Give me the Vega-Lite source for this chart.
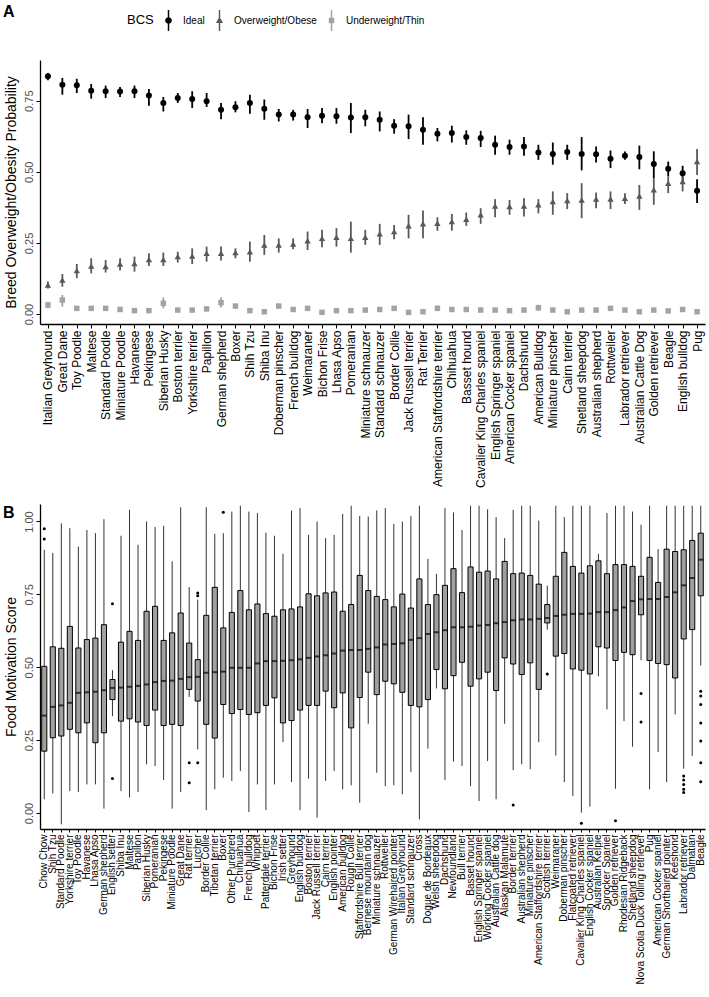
{
  "$schema": "https://vega.github.io/schema/vega-lite/v6.json",
  "padding": {"left": 3, "top": 4, "right": 5, "bottom": 0},
  "config": {
    "font": "Liberation Sans",
    "view": {"stroke": null},
    "axis": {"grid": false, "domainColor": "#000000", "domainWidth": 1.3, "tickColor": "#000000", "tickWidth": 1, "tickSize": 4, "labelPadding": 2, "labelFont": "Liberation Sans", "titleFont": "Liberation Sans", "titleFontWeight": "normal", "titleColor": "#000000"}
  },
  "datasets": {
    "a": [
      {"b":"Italian Greyhound","s":"Ideal","p":0.836,"lo":0.822,"hi":0.847},
      {"b":"Great Dane","s":"Ideal","p":0.806,"lo":0.771,"hi":0.830},
      {"b":"Toy Poodle","s":"Ideal","p":0.804,"lo":0.777,"hi":0.827},
      {"b":"Maltese","s":"Ideal","p":0.785,"lo":0.757,"hi":0.809},
      {"b":"Standard Poodle","s":"Ideal","p":0.783,"lo":0.759,"hi":0.803},
      {"b":"Miniature Poodle","s":"Ideal","p":0.782,"lo":0.763,"hi":0.798},
      {"b":"Havanese","s":"Ideal","p":0.783,"lo":0.759,"hi":0.803},
      {"b":"Pekingese","s":"Ideal","p":0.768,"lo":0.732,"hi":0.791},
      {"b":"Siberian Husky","s":"Ideal","p":0.742,"lo":0.712,"hi":0.763},
      {"b":"Boston terrier","s":"Ideal","p":0.759,"lo":0.742,"hi":0.777},
      {"b":"Yorkshire terrier","s":"Ideal","p":0.756,"lo":0.724,"hi":0.783},
      {"b":"Papillon","s":"Ideal","p":0.748,"lo":0.728,"hi":0.777},
      {"b":"German shepherd","s":"Ideal","p":0.718,"lo":0.685,"hi":0.742},
      {"b":"Boxer","s":"Ideal","p":0.727,"lo":0.709,"hi":0.748},
      {"b":"Shih Tzu","s":"Ideal","p":0.742,"lo":0.704,"hi":0.771},
      {"b":"Shiba Inu","s":"Ideal","p":0.722,"lo":0.683,"hi":0.754},
      {"b":"Doberman pinscher","s":"Ideal","p":0.701,"lo":0.677,"hi":0.721},
      {"b":"French bulldog","s":"Ideal","p":0.701,"lo":0.680,"hi":0.718},
      {"b":"Weimaraner","s":"Ideal","p":0.692,"lo":0.654,"hi":0.721},
      {"b":"Bichon Frise","s":"Ideal","p":0.697,"lo":0.671,"hi":0.724},
      {"b":"Lhasa Apso","s":"Ideal","p":0.695,"lo":0.669,"hi":0.724},
      {"b":"Pomeranian","s":"Ideal","p":0.691,"lo":0.636,"hi":0.742},
      {"b":"Miniature schnauzer","s":"Ideal","p":0.692,"lo":0.660,"hi":0.718},
      {"b":"Standard schnauzer","s":"Ideal","p":0.683,"lo":0.642,"hi":0.712},
      {"b":"Border Collie","s":"Ideal","p":0.662,"lo":0.634,"hi":0.685},
      {"b":"Jack Russell terrier","s":"Ideal","p":0.660,"lo":0.615,"hi":0.701},
      {"b":"Rat Terrier","s":"Ideal","p":0.648,"lo":0.595,"hi":0.692},
      {"b":"American Staffordshire terrier","s":"Ideal","p":0.634,"lo":0.607,"hi":0.654},
      {"b":"Chihuahua","s":"Ideal","p":0.636,"lo":0.603,"hi":0.662},
      {"b":"Basset hound","s":"Ideal","p":0.622,"lo":0.595,"hi":0.646},
      {"b":"Cavalier King Charles spaniel","s":"Ideal","p":0.619,"lo":0.587,"hi":0.644},
      {"b":"English Springer spaniel","s":"Ideal","p":0.595,"lo":0.560,"hi":0.627},
      {"b":"American Cocker spaniel","s":"Ideal","p":0.587,"lo":0.560,"hi":0.613},
      {"b":"Dachshund","s":"Ideal","p":0.589,"lo":0.556,"hi":0.622},
      {"b":"American Bulldog","s":"Ideal","p":0.568,"lo":0.542,"hi":0.595},
      {"b":"Miniature pinscher","s":"Ideal","p":0.563,"lo":0.525,"hi":0.603},
      {"b":"Cairn terrier","s":"Ideal","p":0.570,"lo":0.542,"hi":0.595},
      {"b":"Shetland sheepdog","s":"Ideal","p":0.563,"lo":0.505,"hi":0.622},
      {"b":"Australian shepherd","s":"Ideal","p":0.562,"lo":0.533,"hi":0.589},
      {"b":"Rottweiler","s":"Ideal","p":0.546,"lo":0.513,"hi":0.575},
      {"b":"Labrador retriever","s":"Ideal","p":0.556,"lo":0.542,"hi":0.571},
      {"b":"Australian Cattle Dog","s":"Ideal","p":0.552,"lo":0.509,"hi":0.592},
      {"b":"Golden retriever","s":"Ideal","p":0.527,"lo":0.478,"hi":0.572},
      {"b":"Beagle","s":"Ideal","p":0.511,"lo":0.484,"hi":0.536},
      {"b":"English bulldog","s":"Ideal","p":0.495,"lo":0.469,"hi":0.521},
      {"b":"Pug","s":"Ideal","p":0.433,"lo":0.390,"hi":0.474},
      {"b":"Italian Greyhound","s":"Overweight/Obese","p":0.102,"lo":0.090,"hi":0.114},
      {"b":"Great Dane","s":"Overweight/Obese","p":0.120,"lo":0.096,"hi":0.141},
      {"b":"Toy Poodle","s":"Overweight/Obese","p":0.153,"lo":0.126,"hi":0.176},
      {"b":"Maltese","s":"Overweight/Obese","p":0.169,"lo":0.143,"hi":0.196},
      {"b":"Standard Poodle","s":"Overweight/Obese","p":0.167,"lo":0.146,"hi":0.190},
      {"b":"Miniature Poodle","s":"Overweight/Obese","p":0.176,"lo":0.153,"hi":0.196},
      {"b":"Havanese","s":"Overweight/Obese","p":0.178,"lo":0.149,"hi":0.202},
      {"b":"Pekingese","s":"Overweight/Obese","p":0.192,"lo":0.169,"hi":0.214},
      {"b":"Siberian Husky","s":"Overweight/Obese","p":0.192,"lo":0.169,"hi":0.216},
      {"b":"Boston terrier","s":"Overweight/Obese","p":0.202,"lo":0.181,"hi":0.219},
      {"b":"Yorkshire terrier","s":"Overweight/Obese","p":0.204,"lo":0.176,"hi":0.231},
      {"b":"Papillon","s":"Overweight/Obese","p":0.214,"lo":0.184,"hi":0.237},
      {"b":"German shepherd","s":"Overweight/Obese","p":0.214,"lo":0.188,"hi":0.237},
      {"b":"Boxer","s":"Overweight/Obese","p":0.216,"lo":0.196,"hi":0.231},
      {"b":"Shih Tzu","s":"Overweight/Obese","p":0.219,"lo":0.184,"hi":0.255},
      {"b":"Shiba Inu","s":"Overweight/Obese","p":0.243,"lo":0.208,"hi":0.278},
      {"b":"Doberman pinscher","s":"Overweight/Obese","p":0.243,"lo":0.216,"hi":0.266},
      {"b":"French bulldog","s":"Overweight/Obese","p":0.246,"lo":0.228,"hi":0.266},
      {"b":"Weimaraner","s":"Overweight/Obese","p":0.258,"lo":0.225,"hi":0.290},
      {"b":"Bichon Frise","s":"Overweight/Obese","p":0.266,"lo":0.235,"hi":0.296},
      {"b":"Lhasa Apso","s":"Overweight/Obese","p":0.270,"lo":0.237,"hi":0.302},
      {"b":"Pomeranian","s":"Overweight/Obese","p":0.266,"lo":0.216,"hi":0.325},
      {"b":"Miniature schnauzer","s":"Overweight/Obese","p":0.270,"lo":0.243,"hi":0.296},
      {"b":"Standard schnauzer","s":"Overweight/Obese","p":0.282,"lo":0.243,"hi":0.317},
      {"b":"Border Collie","s":"Overweight/Obese","p":0.290,"lo":0.263,"hi":0.313},
      {"b":"Jack Russell terrier","s":"Overweight/Obese","p":0.310,"lo":0.266,"hi":0.349},
      {"b":"Rat Terrier","s":"Overweight/Obese","p":0.317,"lo":0.266,"hi":0.364},
      {"b":"American Staffordshire terrier","s":"Overweight/Obese","p":0.319,"lo":0.293,"hi":0.340},
      {"b":"Chihuahua","s":"Overweight/Obese","p":0.325,"lo":0.293,"hi":0.352},
      {"b":"Basset hound","s":"Overweight/Obese","p":0.333,"lo":0.310,"hi":0.357},
      {"b":"Cavalier King Charles spaniel","s":"Overweight/Obese","p":0.349,"lo":0.317,"hi":0.372},
      {"b":"English Springer spaniel","s":"Overweight/Obese","p":0.380,"lo":0.340,"hi":0.404},
      {"b":"American Cocker spaniel","s":"Overweight/Obese","p":0.378,"lo":0.349,"hi":0.401},
      {"b":"Dachshund","s":"Overweight/Obese","p":0.380,"lo":0.343,"hi":0.407},
      {"b":"American Bulldog","s":"Overweight/Obese","p":0.384,"lo":0.354,"hi":0.404},
      {"b":"Miniature pinscher","s":"Overweight/Obese","p":0.396,"lo":0.349,"hi":0.431},
      {"b":"Cairn terrier","s":"Overweight/Obese","p":0.399,"lo":0.369,"hi":0.425},
      {"b":"Shetland sheepdog","s":"Overweight/Obese","p":0.401,"lo":0.337,"hi":0.460},
      {"b":"Australian shepherd","s":"Overweight/Obese","p":0.404,"lo":0.372,"hi":0.427},
      {"b":"Rottweiler","s":"Overweight/Obese","p":0.404,"lo":0.369,"hi":0.431},
      {"b":"Labrador retriever","s":"Overweight/Obese","p":0.407,"lo":0.387,"hi":0.425},
      {"b":"Australian Cattle Dog","s":"Overweight/Obese","p":0.415,"lo":0.366,"hi":0.454},
      {"b":"Golden retriever","s":"Overweight/Obese","p":0.437,"lo":0.384,"hi":0.478},
      {"b":"Beagle","s":"Overweight/Obese","p":0.460,"lo":0.425,"hi":0.484},
      {"b":"English bulldog","s":"Overweight/Obese","p":0.466,"lo":0.431,"hi":0.489},
      {"b":"Pug","s":"Overweight/Obese","p":0.536,"lo":0.489,"hi":0.580},
      {"b":"Italian Greyhound","s":"Underweight/Thin","p":0.032,"lo":0.020,"hi":0.043},
      {"b":"Great Dane","s":"Underweight/Thin","p":0.049,"lo":0.026,"hi":0.067},
      {"b":"Toy Poodle","s":"Underweight/Thin","p":0.020,"lo":0.013,"hi":0.027},
      {"b":"Maltese","s":"Underweight/Thin","p":0.020,"lo":0.013,"hi":0.027},
      {"b":"Standard Poodle","s":"Underweight/Thin","p":0.020,"lo":0.012,"hi":0.028},
      {"b":"Miniature Poodle","s":"Underweight/Thin","p":0.016,"lo":0.010,"hi":0.022},
      {"b":"Havanese","s":"Underweight/Thin","p":0.012,"lo":0.007,"hi":0.017},
      {"b":"Pekingese","s":"Underweight/Thin","p":0.012,"lo":0.007,"hi":0.017},
      {"b":"Siberian Husky","s":"Underweight/Thin","p":0.038,"lo":0.020,"hi":0.058},
      {"b":"Boston terrier","s":"Underweight/Thin","p":0.014,"lo":0.008,"hi":0.020},
      {"b":"Yorkshire terrier","s":"Underweight/Thin","p":0.014,"lo":0.008,"hi":0.020},
      {"b":"Papillon","s":"Underweight/Thin","p":0.018,"lo":0.011,"hi":0.025},
      {"b":"German shepherd","s":"Underweight/Thin","p":0.040,"lo":0.023,"hi":0.059},
      {"b":"Boxer","s":"Underweight/Thin","p":0.028,"lo":0.020,"hi":0.036},
      {"b":"Shih Tzu","s":"Underweight/Thin","p":0.012,"lo":0.007,"hi":0.017},
      {"b":"Shiba Inu","s":"Underweight/Thin","p":0.008,"lo":0.004,"hi":0.012},
      {"b":"Doberman pinscher","s":"Underweight/Thin","p":0.028,"lo":0.019,"hi":0.037},
      {"b":"French bulldog","s":"Underweight/Thin","p":0.016,"lo":0.010,"hi":0.022},
      {"b":"Weimaraner","s":"Underweight/Thin","p":0.020,"lo":0.012,"hi":0.028},
      {"b":"Bichon Frise","s":"Underweight/Thin","p":0.006,"lo":0.003,"hi":0.010},
      {"b":"Lhasa Apso","s":"Underweight/Thin","p":0.012,"lo":0.007,"hi":0.017},
      {"b":"Pomeranian","s":"Underweight/Thin","p":0.012,"lo":0.007,"hi":0.017},
      {"b":"Miniature schnauzer","s":"Underweight/Thin","p":0.014,"lo":0.008,"hi":0.020},
      {"b":"Standard schnauzer","s":"Underweight/Thin","p":0.016,"lo":0.010,"hi":0.022},
      {"b":"Border Collie","s":"Underweight/Thin","p":0.020,"lo":0.013,"hi":0.027},
      {"b":"Jack Russell terrier","s":"Underweight/Thin","p":0.006,"lo":0.003,"hi":0.010},
      {"b":"Rat Terrier","s":"Underweight/Thin","p":0.008,"lo":0.004,"hi":0.012},
      {"b":"American Staffordshire terrier","s":"Underweight/Thin","p":0.020,"lo":0.012,"hi":0.030},
      {"b":"Chihuahua","s":"Underweight/Thin","p":0.016,"lo":0.010,"hi":0.022},
      {"b":"Basset hound","s":"Underweight/Thin","p":0.016,"lo":0.010,"hi":0.022},
      {"b":"Cavalier King Charles spaniel","s":"Underweight/Thin","p":0.014,"lo":0.008,"hi":0.020},
      {"b":"English Springer spaniel","s":"Underweight/Thin","p":0.014,"lo":0.008,"hi":0.020},
      {"b":"American Cocker spaniel","s":"Underweight/Thin","p":0.012,"lo":0.007,"hi":0.017},
      {"b":"Dachshund","s":"Underweight/Thin","p":0.014,"lo":0.008,"hi":0.020},
      {"b":"American Bulldog","s":"Underweight/Thin","p":0.022,"lo":0.012,"hi":0.033},
      {"b":"Miniature pinscher","s":"Underweight/Thin","p":0.014,"lo":0.008,"hi":0.020},
      {"b":"Cairn terrier","s":"Underweight/Thin","p":0.008,"lo":0.004,"hi":0.012},
      {"b":"Shetland sheepdog","s":"Underweight/Thin","p":0.014,"lo":0.008,"hi":0.020},
      {"b":"Australian shepherd","s":"Underweight/Thin","p":0.014,"lo":0.008,"hi":0.020},
      {"b":"Rottweiler","s":"Underweight/Thin","p":0.020,"lo":0.012,"hi":0.028},
      {"b":"Labrador retriever","s":"Underweight/Thin","p":0.014,"lo":0.008,"hi":0.020},
      {"b":"Australian Cattle Dog","s":"Underweight/Thin","p":0.008,"lo":0.004,"hi":0.012},
      {"b":"Golden retriever","s":"Underweight/Thin","p":0.014,"lo":0.008,"hi":0.020},
      {"b":"Beagle","s":"Underweight/Thin","p":0.011,"lo":0.006,"hi":0.016},
      {"b":"English bulldog","s":"Underweight/Thin","p":0.016,"lo":0.010,"hi":0.022},
      {"b":"Pug","s":"Underweight/Thin","p":0.008,"lo":0.004,"hi":0.012}
    ],
    "bx": [
      {"b":"Chow Chow","lo":0.047,"q1":0.212,"md":0.334,"q3":0.503,"hi":0.903},
      {"b":"Shih Tzu","lo":0.067,"q1":0.258,"md":0.364,"q3":0.570,"hi":0.892},
      {"b":"Standard Poodle","lo":-0.039,"q1":0.264,"md":0.369,"q3":0.565,"hi":0.994},
      {"b":"Yorkshire terrier","lo":0.075,"q1":0.287,"md":0.378,"q3":0.640,"hi":0.977},
      {"b":"Toy Poodle","lo":0.072,"q1":0.275,"md":0.412,"q3":0.566,"hi":0.914},
      {"b":"Havanese","lo":0.098,"q1":0.309,"md":0.414,"q3":0.595,"hi":0.971},
      {"b":"Lhasa Apso","lo":0.098,"q1":0.241,"md":0.416,"q3":0.600,"hi":0.960},
      {"b":"German shepherd","lo":0.015,"q1":0.275,"md":0.421,"q3":0.646,"hi":1.008},
      {"b":"English setter","lo":0.332,"q1":0.389,"md":0.429,"q3":0.458,"hi":0.490},
      {"b":"Shiba Inu","lo":0.075,"q1":0.315,"md":0.430,"q3":0.586,"hi":0.951},
      {"b":"Maltese","lo":0.053,"q1":0.323,"md":0.433,"q3":0.623,"hi":1.040},
      {"b":"Papillon","lo":0.072,"q1":0.312,"md":0.436,"q3":0.592,"hi":0.920},
      {"b":"Siberian Husky","lo":0.167,"q1":0.300,"md":0.441,"q3":0.692,"hi":1.000},
      {"b":"Pomeranian","lo":0.161,"q1":0.353,"md":0.449,"q3":0.709,"hi":0.981},
      {"b":"Pekingese","lo":0.113,"q1":0.300,"md":0.453,"q3":0.592,"hi":0.985},
      {"b":"Miniature Poodle","lo":0.015,"q1":0.304,"md":0.454,"q3":0.618,"hi":0.863},
      {"b":"Great Dane","lo":0.072,"q1":0.300,"md":0.460,"q3":0.686,"hi":1.049},
      {"b":"Rat terrier","lo":0.398,"q1":0.424,"md":0.466,"q3":0.583,"hi":0.775},
      {"b":"Lurcher","lo":0.218,"q1":0.384,"md":0.467,"q3":0.526,"hi":0.732},
      {"b":"Border Collie","lo":0.010,"q1":0.304,"md":0.481,"q3":0.678,"hi":1.049},
      {"b":"Tibetan terrier","lo":0.081,"q1":0.257,"md":0.483,"q3":0.774,"hi":0.958},
      {"b":"Boxer","lo":0.121,"q1":0.372,"md":0.485,"q3":0.635,"hi":0.960},
      {"b":"Other Purebred","lo":0.110,"q1":0.341,"md":0.498,"q3":0.688,"hi":1.034},
      {"b":"Chihuahua","lo":0.144,"q1":0.355,"md":0.498,"q3":0.763,"hi":1.054},
      {"b":"French bulldog","lo":0.003,"q1":0.338,"md":0.498,"q3":0.697,"hi":1.034},
      {"b":"Whippet","lo":0.098,"q1":0.344,"md":0.513,"q3":0.717,"hi":1.029},
      {"b":"Patterdale terrier","lo":0.010,"q1":0.369,"md":0.521,"q3":0.684,"hi":0.962},
      {"b":"Bichon Frise","lo":0.098,"q1":0.395,"md":0.521,"q3":0.675,"hi":0.951},
      {"b":"Irish setter","lo":0.243,"q1":0.309,"md":0.522,"q3":0.697,"hi":0.889},
      {"b":"Greyhound","lo":0.106,"q1":0.317,"md":0.524,"q3":0.700,"hi":1.038},
      {"b":"English bulldog","lo":0.010,"q1":0.353,"md":0.527,"q3":0.707,"hi":1.046},
      {"b":"Boston terrier","lo":0.118,"q1":0.369,"md":0.532,"q3":0.752,"hi":0.954},
      {"b":"Jack Russell terrier","lo":-0.016,"q1":0.369,"md":0.537,"q3":0.745,"hi":1.000},
      {"b":"Cairn terrier","lo":0.110,"q1":0.418,"md":0.541,"q3":0.755,"hi":0.943},
      {"b":"English pointer","lo":0.144,"q1":0.361,"md":0.547,"q3":0.758,"hi":0.954},
      {"b":"American bulldog","lo":0.081,"q1":0.412,"md":0.557,"q3":0.692,"hi":1.026},
      {"b":"Rough Collie","lo":0.095,"q1":0.292,"md":0.559,"q3":0.715,"hi":1.054},
      {"b":"Staffordshire Bull terrier","lo":0.035,"q1":0.396,"md":0.559,"q3":0.815,"hi":1.019},
      {"b":"Bernese mountain dog","lo":0.306,"q1":0.483,"md":0.563,"q3":0.763,"hi":1.017},
      {"b":"Miniature schnauzer","lo":0.138,"q1":0.406,"md":0.568,"q3":0.743,"hi":1.038},
      {"b":"Rottweiler","lo":0.092,"q1":0.452,"md":0.578,"q3":0.732,"hi":1.046},
      {"b":"German Wirehaired pointer","lo":0.095,"q1":0.443,"md":0.580,"q3":0.707,"hi":0.992},
      {"b":"Italian Greyhound","lo":0.064,"q1":0.414,"md":0.582,"q3":0.751,"hi":1.000},
      {"b":"Standard schnauzer","lo":0.140,"q1":0.369,"md":0.594,"q3":0.703,"hi":1.019},
      {"b":"Cross","lo":-0.022,"q1":0.364,"md":0.600,"q3":0.803,"hi":1.054},
      {"b":"Dogue de Bordeaux","lo":0.221,"q1":0.389,"md":0.614,"q3":0.715,"hi":0.872},
      {"b":"Welsh sheepdog","lo":0.427,"q1":0.492,"md":0.620,"q3":0.749,"hi":0.820},
      {"b":"Dachshund","lo":0.113,"q1":0.426,"md":0.627,"q3":0.781,"hi":1.046},
      {"b":"Newfoundland","lo":0.176,"q1":0.471,"md":0.637,"q3":0.838,"hi":1.031},
      {"b":"Bull terrier","lo":0.161,"q1":0.517,"md":0.637,"q3":0.756,"hi":0.971},
      {"b":"Basset hound","lo":0.092,"q1":0.435,"md":0.639,"q3":0.844,"hi":1.054},
      {"b":"English Springer spaniel","lo":0.041,"q1":0.460,"md":0.643,"q3":0.826,"hi":1.054},
      {"b":"Working Cocker spaniel","lo":0.178,"q1":0.483,"md":0.645,"q3":0.830,"hi":1.042},
      {"b":"Australian Cattle dog","lo":0.047,"q1":0.420,"md":0.651,"q3":0.803,"hi":1.015},
      {"b":"Alaskan Malamute","lo":0.306,"q1":0.532,"md":0.655,"q3":0.863,"hi":0.943},
      {"b":"Border terrier","lo":0.147,"q1":0.511,"md":0.661,"q3":0.821,"hi":1.040},
      {"b":"Australian shepherd","lo":0.167,"q1":0.475,"md":0.664,"q3":0.823,"hi":1.054},
      {"b":"Miniature pinscher","lo":0.150,"q1":0.515,"md":0.664,"q3":0.815,"hi":1.054},
      {"b":"American Staffordshire terrier","lo":0.243,"q1":0.424,"md":0.666,"q3":0.785,"hi":1.003},
      {"b":"Scottish terrier","lo":0.629,"q1":0.652,"md":0.669,"q3":0.715,"hi":0.780},
      {"b":"Weimaraner","lo":0.197,"q1":0.538,"md":0.676,"q3":0.812,"hi":1.054},
      {"b":"Doberman pinscher","lo":0.106,"q1":0.547,"md":0.680,"q3":0.894,"hi":1.015},
      {"b":"Flatcoated retriever","lo":0.058,"q1":0.494,"md":0.683,"q3":0.846,"hi":1.054},
      {"b":"Cavalier King Charles spaniel","lo":0.001,"q1":0.490,"md":0.683,"q3":0.823,"hi":1.054},
      {"b":"English Cocker spaniel","lo":0.022,"q1":0.477,"md":0.684,"q3":0.848,"hi":1.054},
      {"b":"Australian Kelpie","lo":0.469,"q1":0.570,"md":0.689,"q3":0.865,"hi":0.889},
      {"b":"Sprocker Spaniel","lo":0.355,"q1":0.566,"md":0.689,"q3":0.821,"hi":1.029},
      {"b":"Golden retriever","lo":0.083,"q1":0.523,"md":0.696,"q3":0.852,"hi":1.054},
      {"b":"Rhodesian Ridgeback","lo":0.315,"q1":0.551,"md":0.705,"q3":0.852,"hi":1.054},
      {"b":"Shetland sheepdog","lo":0.227,"q1":0.543,"md":0.727,"q3":0.846,"hi":1.034},
      {"b":"Nova Scotia Duck Tolling retriever","lo":0.524,"q1":0.680,"md":0.733,"q3":0.812,"hi":0.989},
      {"b":"Pug","lo":0.081,"q1":0.523,"md":0.734,"q3":0.877,"hi":1.054},
      {"b":"American Cocker spaniel","lo":0.209,"q1":0.513,"md":0.734,"q3":0.791,"hi":0.905},
      {"b":"German Shorthaired pointer","lo":0.106,"q1":0.509,"md":0.741,"q3":0.905,"hi":1.054},
      {"b":"Keeshond","lo":0.338,"q1":0.463,"md":0.757,"q3":0.897,"hi":1.054},
      {"b":"Labrador retriever","lo":0.152,"q1":0.597,"md":0.781,"q3":0.903,"hi":1.054},
      {"b":"Dalmatian","lo":0.195,"q1":0.629,"md":0.806,"q3":0.935,"hi":1.054},
      {"b":"Beagle","lo":0.506,"q1":0.745,"md":0.869,"q3":0.960,"hi":1.054}
    ],
    "o": [
      {"b":"Chow Chow","v":0.975},{"b":"Chow Chow","v":0.940},
      {"b":"English setter","v":0.718},{"b":"English setter","v":0.118},
      {"b":"Rat terrier","v":0.172},{"b":"Rat terrier","v":0.104},
      {"b":"Lurcher","v":0.755},{"b":"Lurcher","v":0.745},{"b":"Lurcher","v":0.172},
      {"b":"Boxer","v":1.032},
      {"b":"Border terrier","v":0.027},
      {"b":"Scottish terrier","v":0.477},
      {"b":"Cavalier King Charles spaniel","v":-0.035},
      {"b":"Golden retriever","v":-0.027},
      {"b":"Nova Scotia Duck Tolling retriever","v":0.410},{"b":"Nova Scotia Duck Tolling retriever","v":0.312},
      {"b":"Labrador retriever","v":0.127},{"b":"Labrador retriever","v":0.113},{"b":"Labrador retriever","v":0.098},{"b":"Labrador retriever","v":0.081},{"b":"Labrador retriever","v":0.070},
      {"b":"Beagle","v":0.418},{"b":"Beagle","v":0.401},{"b":"Beagle","v":0.372},{"b":"Beagle","v":0.309},{"b":"Beagle","v":0.247},{"b":"Beagle","v":0.172},{"b":"Beagle","v":0.107}
    ]
  },
  "vconcat": [
    {
      "width": 665,
      "height": 264,
      "title": {"text": "A", "anchor": "start", "frame": "group", "fontSize": 16, "fontWeight": "bold", "dx": -37, "offset": 40, "color": "#000000"},
      "data": {"name": "a"},
      "encoding": {
        "x": {"field": "b", "type": "nominal", "sort": null,
              "scale": {"type": "point", "padding": 0.55},
              "axis": {"title": null, "labelAngle": -90, "labelFontSize": 12, "labelColor": "#000000"}},
        "color": {"field": "s", "type": "nominal",
                  "scale": {"domain": ["Ideal", "Overweight/Obese", "Underweight/Thin"], "range": ["#000000", "#595959", "#a3a3a3"]},
                  "legend": {"title": "BCS", "orient": "none", "legendX": 87, "legendY": -50, "direction": "horizontal", "titleOrient": "left", "titleFontSize": 13, "titleFontWeight": "normal", "titleColor": "#000000", "titlePadding": 4, "labelFontSize": 10, "labelColor": "#000000", "labelOffset": 4, "columnPadding": 4, "symbolSize": 440, "symbolStrokeWidth": 0}}
      },
      "layer": [
        {
          "mark": {"type": "rule", "strokeWidth": 1.8},
          "encoding": {
            "y": {"field": "lo", "type": "quantitative",
                  "scale": {"domain": [-0.035, 0.893], "nice": false, "zero": false},
                  "axis": {"title": "Breed Overweight/Obesity Probability", "titleFontSize": 14, "titlePadding": 5, "values": [0, 0.25, 0.5, 0.75], "format": ".2f", "labelAngle": -90, "labelFontSize": 11, "labelColor": "#4d4d4d"}},
            "y2": {"field": "hi"}
          }
        },
        {
          "transform": [{"filter": "datum.s === 'Ideal'"}],
          "mark": {"type": "point", "filled": true, "opacity": 1, "size": 36, "shape": "circle"},
          "encoding": {"y": {"field": "p", "type": "quantitative"}}
        },
        {
          "transform": [{"filter": "datum.s === 'Overweight/Obese'"}],
          "mark": {"type": "point", "filled": true, "opacity": 1, "size": 40, "shape": "triangle-up"},
          "encoding": {"y": {"field": "p", "type": "quantitative"}}
        },
        {
          "transform": [{"filter": "datum.s === 'Underweight/Thin'"}],
          "mark": {"type": "point", "filled": true, "opacity": 1, "size": 30, "shape": "square"},
          "encoding": {"y": {"field": "p", "type": "quantitative"}}
        },
        {
          "transform": [{"filter": "false"}],
          "mark": {"type": "point", "filled": true, "opacity": 1},
          "encoding": {
            "y": {"field": "p", "type": "quantitative"},
            "shape": {"field": "s", "type": "nominal",
                      "scale": {"domain": ["Ideal", "Overweight/Obese", "Underweight/Thin"],
                                "range": ["M-0.07,-1H0.07V1H-0.07ZM0.32,0A0.32,0.32,0,1,1,-0.32,0A0.32,0.32,0,1,1,0.32,0Z", "M-0.07,-1H0.07V1H-0.07ZM0,-0.36L0.34,0.24L-0.34,0.24Z", "M-0.07,-1H0.07V1H-0.07ZM-0.26,-0.26H0.26V0.26H-0.26Z"]},
                      "legend": {"title": "BCS", "orient": "none", "legendX": 87, "legendY": -50, "direction": "horizontal", "titleOrient": "left", "titleFontSize": 13, "titleFontWeight": "normal", "titleColor": "#000000", "titlePadding": 4, "labelFontSize": 10, "labelColor": "#000000", "labelOffset": 4, "columnPadding": 4, "symbolSize": 440, "symbolStrokeWidth": 0}}
          }
        }
      ]
    },
    {
      "width": 665,
      "height": 325,
      "title": {"text": "B", "anchor": "start", "frame": "group", "fontSize": 16, "fontWeight": "bold", "dx": -37, "offset": -17, "color": "#000000"},
      "encoding": {
        "x": {"field": "b", "type": "nominal",
              "scale": {"domain": ["Chow Chow","Shih Tzu","Standard Poodle","Yorkshire terrier","Toy Poodle","Havanese","Lhasa Apso","German shepherd","English setter","Shiba Inu","Maltese","Papillon","Siberian Husky","Pomeranian","Pekingese","Miniature Poodle","Great Dane","Rat terrier","Lurcher","Border Collie","Tibetan terrier","Boxer","Other Purebred","Chihuahua","French bulldog","Whippet","Patterdale terrier","Bichon Frise","Irish setter","Greyhound","English bulldog","Boston terrier","Jack Russell terrier","Cairn terrier","English pointer","American bulldog","Rough Collie","Staffordshire Bull terrier","Bernese mountain dog","Miniature schnauzer","Rottweiler","German Wirehaired pointer","Italian Greyhound","Standard schnauzer","Cross","Dogue de Bordeaux","Welsh sheepdog","Dachshund","Newfoundland","Bull terrier","Basset hound","English Springer spaniel","Working Cocker spaniel","Australian Cattle dog","Alaskan Malamute","Border terrier","Australian shepherd","Miniature pinscher","American Staffordshire terrier","Scottish terrier","Weimaraner","Doberman pinscher","Flatcoated retriever","Cavalier King Charles spaniel","English Cocker spaniel","Australian Kelpie","Sprocker Spaniel","Golden retriever","Rhodesian Ridgeback","Shetland sheepdog","Nova Scotia Duck Tolling retriever","Pug","American Cocker spaniel","German Shorthaired pointer","Keeshond","Labrador retriever","Dalmatian","Beagle"], "paddingInner": 0.4, "paddingOuter": 0.2},
              "axis": {"title": null, "labelAngle": -90, "labelFontSize": 10, "labelColor": "#000000", "tickSize": 3}}
      },
      "layer": [
        {
          "data": {"name": "bx"},
          "mark": {"type": "rule", "color": "#333333", "strokeWidth": 1},
          "encoding": {
            "y": {"field": "lo", "type": "quantitative",
                  "scale": {"domain": [-0.055, 1.06], "nice": false, "zero": false},
                  "axis": {"title": "Food Motivation Score", "titleFontSize": 14, "titlePadding": 5, "values": [0, 0.25, 0.5, 0.75, 1], "format": ".2f", "labelAngle": -90, "labelFontSize": 11, "labelColor": "#4d4d4d"}},
            "y2": {"field": "hi"}
          }
        },
        {
          "data": {"name": "bx"},
          "mark": {"type": "bar", "fill": "#a0a0a0", "stroke": "#000000", "strokeWidth": 1},
          "encoding": {
            "y": {"field": "q1", "type": "quantitative"},
            "y2": {"field": "q3"}
          }
        },
        {
          "data": {"name": "bx"},
          "mark": {"type": "tick", "color": "#000000", "thickness": 2, "size": 5, "orient": "horizontal"},
          "encoding": {
            "y": {"field": "md", "type": "quantitative"}
          }
        },
        {
          "data": {"name": "o"},
          "mark": {"type": "point", "filled": true, "color": "#000000", "opacity": 1, "size": 9},
          "encoding": {
            "y": {"field": "v", "type": "quantitative"}
          }
        }
      ]
    }
  ],
  "spacing": 16,
  "resolve": {"scale": {"x": "independent", "y": "independent"}}
}
